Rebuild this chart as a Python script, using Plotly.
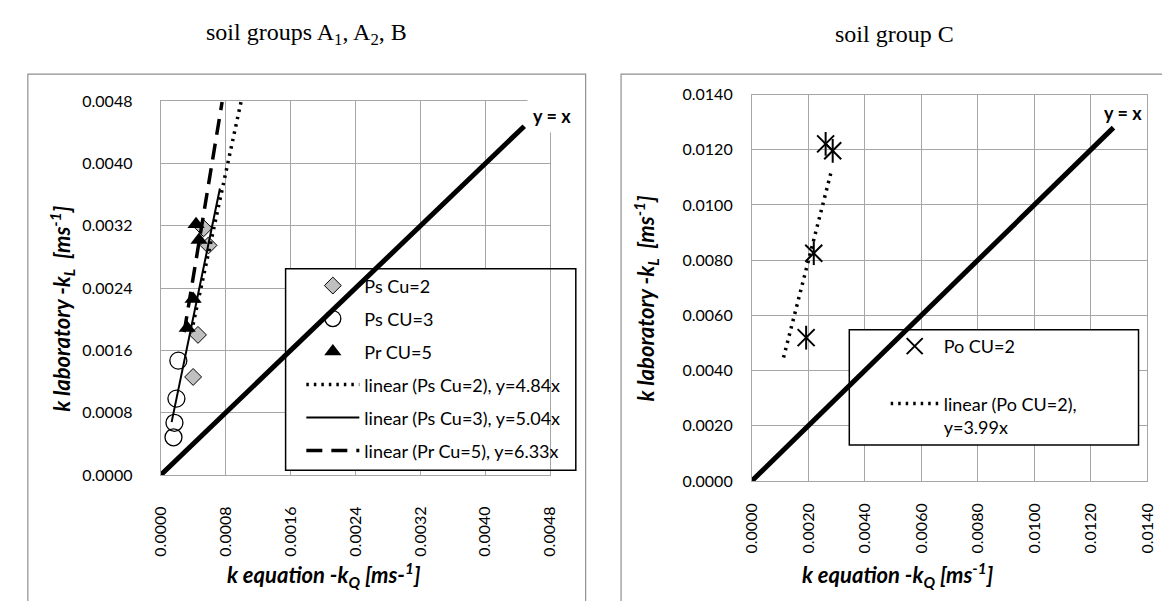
import plotly.graph_objects as go

W, H = 1170, 601

# ---------------- data: soil groups A1, A2, B ----------------
ps2_x = [0.00040, 0.00046, 0.00053, 0.00059]
ps2_y = [0.00126, 0.00180, 0.00317, 0.00295]
ps3_x = [0.000158, 0.000170, 0.000194, 0.000218]
ps3_y = [0.000485, 0.000671, 0.000982, 0.00147]
pr5_x = [0.000327, 0.000400, 0.000473, 0.000436]
pr5_y = [0.00189, 0.00226, 0.00302, 0.00322]

slope_ps2, slope_ps3, slope_pr5 = 4.84, 5.04, 6.33
trend_ps2_x = [0.00038, 0.00099]
trend_ps3_x = [0.000135, 0.00073]
trend_pr5_x = [0.00029, 0.000757]
yx_left = [0.0, 0.00448]

# ---------------- data: soil group C ----------------
po2_x = [0.00192, 0.00219, 0.00261, 0.00286]
po2_y = [0.00519, 0.00825, 0.01221, 0.01196]
slope_po2 = 3.99
trend_po2_x = [0.00112, 0.00280]
yx_right = [0.0, 0.0128]

left_ticks = [0.0, 0.0008, 0.0016, 0.0024, 0.0032, 0.0040, 0.0048]
right_ticks = [0.0, 0.002, 0.004, 0.006, 0.008, 0.010, 0.012, 0.014]
LEFT_MAX, RIGHT_MAX = 0.0048, 0.014

FONT = "Lato"
GRID = "#a6a6a6"

# plot-area pixel boxes
L_X0, L_X1, L_Y0, L_Y1 = 144, 540, 86, 472
R_X0, R_X1, R_Y0, R_Y1 = 745, 1147, 79, 478


def px(x):
    return x / W


def py(y):
    return 1 - y / H


fig = go.Figure()

# left markers
fig.add_trace(go.Scatter(x=ps2_x, y=ps2_y, mode="markers", name="Ps Cu=2",
    legendgroup="a", legend="legend",
    marker=dict(symbol="diamond", size=13, color="#bfbfbf", line=dict(color="black", width=1))))
fig.add_trace(go.Scatter(x=ps3_x, y=ps3_y, mode="markers", name="Ps CU=3",
    legendgroup="b", legend="legend",
    marker=dict(symbol="circle-open", size=17, color="black", line=dict(color="black", width=1.3))))
fig.add_trace(go.Scatter(x=pr5_x, y=pr5_y, mode="markers", name="Pr CU=5",
    legendgroup="c", legend="legend",
    marker=dict(symbol="triangle-up", size=15, color="black")))
# left trendlines
fig.add_trace(go.Scatter(x=trend_ps2_x, y=[slope_ps2 * v for v in trend_ps2_x], mode="lines",
    name="linear (Ps Cu=2), y=4.84x", legendgroup="d", legend="legend",
    line=dict(color="black", width=3.5, dash="2.5px,5px")))
fig.add_trace(go.Scatter(x=trend_ps3_x, y=[slope_ps3 * v for v in trend_ps3_x], mode="lines",
    name="linear (Ps Cu=3), y=5.04x", legendgroup="e", legend="legend",
    line=dict(color="black", width=2)))
fig.add_trace(go.Scatter(x=trend_pr5_x, y=[slope_pr5 * v for v in trend_pr5_x], mode="lines",
    name="linear (Pr Cu=5), y=6.33x", legendgroup="f", legend="legend",
    line=dict(color="black", width=3.5, dash="16px,9px")))
fig.add_trace(go.Scatter(x=yx_left, y=yx_left, mode="lines", showlegend=False,
    line=dict(color="black", width=5)))

# right
fig.add_trace(go.Scatter(x=po2_x, y=po2_y, mode="markers", name="Po CU=2",
    legendgroup="g", legend="legend2", xaxis="x2", yaxis="y2",
    marker=dict(symbol="x-thin-open", size=17, color="black", line=dict(color="black", width=2))))
fig.add_trace(go.Scatter(x=po2_x, y=po2_y, mode="markers", showlegend=False,
    legendgroup="g", xaxis="x2", yaxis="y2",
    marker=dict(symbol="line-ns-open", size=17, color="black", line=dict(color="black", width=2))))
fig.add_trace(go.Scatter(x=trend_po2_x, y=[slope_po2 * v for v in trend_po2_x], mode="lines",
    name="linear (Po CU=2),<br>y=3.99x", legendgroup="h", legend="legend2", xaxis="x2", yaxis="y2",
    line=dict(color="black", width=3.5, dash="2.5px,5px")))
fig.add_trace(go.Scatter(x=yx_right, y=yx_right, mode="lines", showlegend=False,
    xaxis="x2", yaxis="y2", line=dict(color="black", width=5)))

axis_common = dict(showgrid=True, gridcolor=GRID, gridwidth=1, showline=True,
                   linecolor=GRID, linewidth=1, mirror=True, zeroline=False,
                   ticks="", tickformat=".4f",
                   tickfont=dict(family=FONT, size=16, color="black"))

fig.update_layout(
    width=W, height=H, margin=dict(l=0, r=0, t=0, b=0),
    paper_bgcolor="white", plot_bgcolor="white",
    xaxis=dict(domain=[px(L_X0), px(L_X1)], range=[0, LEFT_MAX], tickvals=left_ticks,
               tickangle=-90, ticklabelstandoff=24, anchor="y", **axis_common),
    yaxis=dict(domain=[py(L_Y1), py(L_Y0)], range=[0, LEFT_MAX], tickvals=left_ticks,
               ticklabelstandoff=24, anchor="x", **axis_common),
    xaxis2=dict(domain=[px(R_X0), px(R_X1)], range=[0, RIGHT_MAX], tickvals=right_ticks,
                tickangle=-90, ticklabelstandoff=15, anchor="y2", **axis_common),
    yaxis2=dict(domain=[py(R_Y1), py(R_Y0)], range=[0, RIGHT_MAX], tickvals=right_ticks,
                ticklabelstandoff=15, anchor="x2", **axis_common),
    legend=dict(x=px(287), y=py(257.5), xanchor="left", yanchor="top",
                bgcolor="rgba(0,0,0,0)", borderwidth=0, itemwidth=53,
                traceorder="grouped", tracegroupgap=6.6, valign="middle",
                font=dict(family=FONT, size=18, color="black")),
    legend2=dict(x=px(881), y=py(320), xanchor="left", yanchor="top",
                 bgcolor="rgba(0,0,0,0)", borderwidth=0, itemwidth=48,
                 traceorder="grouped", tracegroupgap=31, valign="top",
                 font=dict(family=FONT, size=18, color="black")),
    showlegend=True,
)


def left_data(pxx, pyy):
    return ((pxx - L_X0) / (L_X1 - L_X0) * LEFT_MAX, (L_Y1 - pyy) / (L_Y1 - L_Y0) * LEFT_MAX)


def right_data(pxx, pyy):
    return ((pxx - R_X0) / (R_X1 - R_X0) * RIGHT_MAX, (R_Y1 - pyy) / (R_Y1 - R_Y0) * RIGHT_MAX)


lb0 = left_data(271, 467)
lb1 = left_data(566, 259)
rb0 = right_data(844, 441)
rb1 = right_data(1138, 322)

shapes = [
    # outer chart boxes
    dict(type="rect", xref="paper", yref="paper", x0=px(9), x1=px(576), y0=-0.2, y1=py(58),
         line=dict(color="#8f8f8f", width=1.2), fillcolor="rgba(0,0,0,0)", layer="below"),
    dict(type="rect", xref="paper", yref="paper", x0=px(612), x1=px(1200), y0=-0.2, y1=py(58),
         line=dict(color="#8f8f8f", width=1.2), fillcolor="rgba(0,0,0,0)", layer="below"),
    # legend fills (above grid, below data)
    dict(type="rect", xref="x", yref="y", x0=lb0[0], x1=lb1[0], y0=lb0[1], y1=lb1[1],
         line=dict(width=0), fillcolor="white", layer="between"),
    dict(type="rect", xref="x2", yref="y2", x0=rb0[0], x1=rb1[0], y0=rb0[1], y1=rb1[1],
         line=dict(width=0), fillcolor="white", layer="between"),
    # legend borders
    dict(type="rect", xref="paper", yref="paper", x0=px(271), x1=px(566), y0=py(467), y1=py(259),
         line=dict(color="black", width=1.5), fillcolor="rgba(0,0,0,0)", layer="above"),
    dict(type="rect", xref="paper", yref="paper", x0=px(844), x1=px(1138), y0=py(441), y1=py(322),
         line=dict(color="black", width=1.5), fillcolor="rgba(0,0,0,0)", layer="above"),
]
fig.update_layout(shapes=shapes)

title_font = dict(family="Liberation Serif", size=24, color="black")
axt_font = dict(family=FONT, size=22, color="black")
anns = [
    dict(text="soil groups A<sub>1</sub>, A<sub>2</sub>, B", x=px(292), y=py(17), font=title_font),
    dict(text="soil group C", x=px(890), y=py(17), font=title_font),
    dict(text="<b><i>k laboratory -k<sub>L</sub>  [ms<sup>-1</sup>]</i></b>", x=px(43), y=py(300),
         textangle=-90, font=axt_font),
    dict(text="<b><i>k laboratory -k<sub>L</sub>  [ms<sup>-1</sup>]</i></b>", x=px(637), y=py(290),
         textangle=-90, font=axt_font),
    dict(text="<b><i>k equation -k<sub>Q</sub> [ms-<sup>1</sup>]</i></b>", x=px(310), y=py(575),
         font=axt_font),
    dict(text="<b><i>k equation -k<sub>Q</sub> [ms<sup>-1</sup>]</i></b>", x=px(894), y=py(575),
         font=axt_font),
    dict(text="<b>y = x</b>", x=px(542), y=py(101), bgcolor="white", borderpad=5,
         font=dict(family=FONT, size=18, color="black")),
    dict(text="<b>y = x</b>", x=px(1122), y=py(98),
         font=dict(family=FONT, size=18, color="black")),
]
for a in anns:
    a.update(xref="paper", yref="paper", showarrow=False, xanchor="center", yanchor="middle")
fig.update_layout(annotations=anns)

fig.write_html("out.html")
